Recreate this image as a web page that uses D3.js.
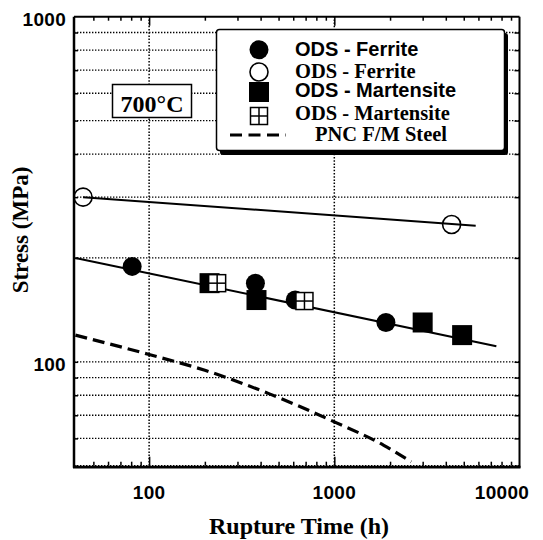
<!DOCTYPE html>
<html>
<head>
<meta charset="utf-8">
<script src="https://cdn.jsdelivr.net/npm/d3@7"></script>
<style>
  body { margin: 0; background: #fff; }
  svg { display: block; }
  .sans { font-family: "Liberation Sans", Arial, sans-serif; font-weight: bold; }
  .serif { font-family: "Liberation Serif", "Times New Roman", serif; font-weight: bold; }
</style>
</head>
<body>
<svg width="543" height="540"></svg>
<script>
// Data (rupture time in h, stress in MPa)
var odsFerriteFilled = [[81, 189], [375, 169], [615, 151], [1900, 130]];
var odsFerriteOpen = [[44, 300], [4300, 250]];
var odsMartFilled = [[212, 169], [380, 151], [3000, 130], [4900, 119.5]];
var odsMartCross = [[233, 169], [690, 150]];
var upperFit = [[44, 300], [5800, 248]];
var lowerFit = [[40, 200], [7500, 111]];
var pncSteel = [[40, 119.5], [100, 105], [200, 94.5], [450, 80.6], [1000, 67],
                [1850, 57.3], [2600, 51.3]];

var xMajor = [100, 1000, 10000];
var xMinor = [50, 60, 70, 80, 90, 200, 300, 400, 500, 600, 700, 800, 900,
              2000, 3000, 4000, 5000, 6000, 7000, 8000, 9000];
var yGrid = [50, 60, 70, 80, 90, 100, 200, 300, 400, 500, 600, 700, 800, 900];
var yLabels = [100, 1000];
var xGrid = [100, 1000];

var legendItems = ["ODS - Ferrite", "ODS - Ferrite", "ODS - Martensite", "ODS - Martensite", "PNC F/M Steel"];

var svg = d3.select("svg");

var x = d3.scaleLog().domain([39.3, 10000]).range([74, 519.5]);
var y = d3.scaleLog().domain([50, 1000]).range([465.7, 16.7]);

// Grid lines (dotted)
svg.append("g").selectAll("line").data(yGrid).enter().append("line")
    .attr("x1", x.range()[0]).attr("x2", x.range()[1])
    .attr("y1", function(d) { return y(d); })
    .attr("y2", function(d) { return y(d); })
    .attr("stroke", "#000").attr("stroke-width", 1.3)
    .attr("stroke-dasharray", "1.4,1.6");

svg.append("g").selectAll("line").data(xGrid).enter().append("line")
    .attr("y1", y.range()[0]).attr("y2", y.range()[1])
    .attr("x1", function(d) { return x(d); })
    .attr("x2", function(d) { return x(d); })
    .attr("stroke", "#000").attr("stroke-width", 1.5)
    .attr("stroke-dasharray", "1.5,1.7");

// Inward ticks on all four sides
function tickAxis(axis, values, size, transform) {
    var g = svg.append("g").attr("transform", transform)
        .call(axis.tickValues(values).tickSize(size).tickFormat(""));
    g.select(".domain").remove();
    g.selectAll("line").attr("stroke", "#000").attr("stroke-width", 1.5);
}
tickAxis(d3.axisBottom(x), xMinor, -4, "translate(0," + y.range()[0] + ")");
tickAxis(d3.axisBottom(x), xGrid, -9, "translate(0," + y.range()[0] + ")");
tickAxis(d3.axisTop(x), xMinor, -4, "translate(0," + y.range()[1] + ")");
tickAxis(d3.axisTop(x), xGrid, -9, "translate(0," + y.range()[1] + ")");
tickAxis(d3.axisRight(y), yGrid, -5, "translate(" + x.range()[1] + ",0)");
tickAxis(d3.axisLeft(y), yGrid, -4, "translate(" + x.range()[0] + ",0)");

// Frame
var frame = svg.append("g").attr("stroke", "#000").attr("fill", "none");
frame.append("line").attr("x1", x.range()[0]).attr("x2", x.range()[0])
    .attr("y1", y.range()[1]).attr("y2", y.range()[0] + 2).attr("stroke-width", 2.5);
frame.append("line").attr("x1", x.range()[0] - 1).attr("x2", x.range()[1] + 1)
    .attr("y1", y.range()[0] + 1.5).attr("y2", y.range()[0] + 1.5).attr("stroke-width", 2.8);
frame.append("line").attr("x1", x.range()[0]).attr("x2", x.range()[1])
    .attr("y1", y.range()[1]).attr("y2", y.range()[1]).attr("stroke-width", 2);
frame.append("line").attr("x1", x.range()[1]).attr("x2", x.range()[1])
    .attr("y1", y.range()[1]).attr("y2", y.range()[0] + 2).attr("stroke-width", 2);

// Tick labels
svg.append("g").selectAll("text").data(yLabels).enter().append("text")
    .attr("class", "sans")
    .attr("x", 66)
    .attr("y", function(d) { return y(d) + 9; })
    .attr("text-anchor", "end")
    .attr("font-size", 19)
    .attr("letter-spacing", 0.3)
    .text(function(d) { return d; });

svg.append("g").selectAll("text").data(xMajor).enter().append("text")
    .attr("class", "sans")
    .attr("x", function(d) { return d === 10000 ? 502 : x(d); })
    .attr("y", 498.5)
    .attr("text-anchor", "middle")
    .attr("font-size", 19)
    .attr("letter-spacing", 0.3)
    .text(function(d) { return d; });

// Axis titles
svg.append("text").attr("class", "serif")
    .attr("x", 299).attr("y", 534)
    .attr("text-anchor", "middle").attr("font-size", 24)
    .text("Rupture Time (h)");

svg.append("text").attr("class", "serif")
    .attr("transform", "translate(28,230) rotate(-90)")
    .attr("text-anchor", "middle").attr("font-size", 23)
    .text("Stress (MPa)");

// Fit lines
var line = d3.line()
    .x(function(d) { return x(d[0]); })
    .y(function(d) { return y(d[1]); });

svg.append("path").datum(upperFit).attr("d", line)
    .attr("fill", "none").attr("stroke", "#000").attr("stroke-width", 2);
svg.append("path").datum(lowerFit).attr("d", line)
    .attr("fill", "none").attr("stroke", "#000").attr("stroke-width", 2);
svg.append("path").datum(pncSteel).attr("d", line.curve(d3.curveMonotoneX))
    .attr("fill", "none").attr("stroke", "#000").attr("stroke-width", 3.2)
    .attr("stroke-dasharray", "12,6");

// Marker helpers
function filledCircle(g, cx, cy) {
    g.append("circle").attr("cx", cx).attr("cy", cy).attr("r", 9.5).attr("fill", "#000");
}
function openCircle(g, cx, cy) {
    g.append("circle").attr("cx", cx).attr("cy", cy).attr("r", 9)
        .attr("fill", "none").attr("stroke", "#000").attr("stroke-width", 1.6);
}
function filledSquare(g, cx, cy) {
    g.append("rect").attr("x", cx - 10).attr("y", cy - 10)
        .attr("width", 20).attr("height", 20).attr("fill", "#000");
}
function crossSquare(g, cx, cy) {
    g.append("rect").attr("x", cx - 8.5).attr("y", cy - 8.5)
        .attr("width", 17).attr("height", 17)
        .attr("fill", "#fff").attr("stroke", "#000").attr("stroke-width", 1.5);
    g.append("line").attr("x1", cx - 8.5).attr("x2", cx + 8.5).attr("y1", cy).attr("y2", cy)
        .attr("stroke", "#000").attr("stroke-width", 1.5);
    g.append("line").attr("x1", cx).attr("x2", cx).attr("y1", cy - 8.5).attr("y2", cy + 8.5)
        .attr("stroke", "#000").attr("stroke-width", 1.5);
}

var marks = svg.append("g");
odsFerriteOpen.forEach(function(d) { openCircle(marks, x(d[0]), y(d[1])); });
odsFerriteFilled.forEach(function(d) { filledCircle(marks, x(d[0]), y(d[1])); });
odsMartFilled.forEach(function(d) { filledSquare(marks, x(d[0]), y(d[1])); });
odsMartCross.forEach(function(d) { crossSquare(marks, x(d[0]), y(d[1])); });

// 700°C label
svg.append("rect").attr("x", 112.5).attr("y", 84.5).attr("width", 79).attr("height", 33)
    .attr("fill", "#fff").attr("stroke", "#000").attr("stroke-width", 1.5);
svg.append("text").attr("class", "serif")
    .attr("x", 152).attr("y", 111.5)
    .attr("text-anchor", "middle").attr("font-size", 24)
    .text("700°C");

// Legend
var legend = svg.append("g");
legend.append("rect").attr("x", 220).attr("y", 33).attr("width", 288).attr("height", 122)
    .attr("rx", 3).attr("fill", "#000");
legend.append("rect").attr("x", 216.5).attr("y", 29.5).attr("width", 288).attr("height", 121)
    .attr("rx", 3).attr("fill", "#fff").attr("stroke", "#000").attr("stroke-width", 1.5);

var symY = [49.7, 72, 92, 116, 135];
var textY = [56, 77.5, 97, 119.5, 140.5];
filledCircle(legend, 259, symY[0]);
openCircle(legend, 259, symY[1]);
filledSquare(legend, 259, symY[2]);
crossSquare(legend, 259, symY[3]);
legend.append("line").attr("x1", 230).attr("x2", 286).attr("y1", symY[4]).attr("y2", symY[4])
    .attr("stroke", "#000").attr("stroke-width", 3.2).attr("stroke-dasharray", "12,6.5");

legend.selectAll("text.item").data(legendItems).enter().append("text")
    .attr("class", function(d, i) { return (i === 0 || i === 2) ? "item sans" : "item serif"; })
    .attr("x", function(d, i) { return i === 4 ? 315 : 295; })
    .attr("y", function(d, i) { return textY[i]; })
    .attr("font-size", function(d, i) { return (i === 0 || i === 2) ? 20 : 20.5; })
    .text(function(d) { return d; });
</script>
</body>
</html>
